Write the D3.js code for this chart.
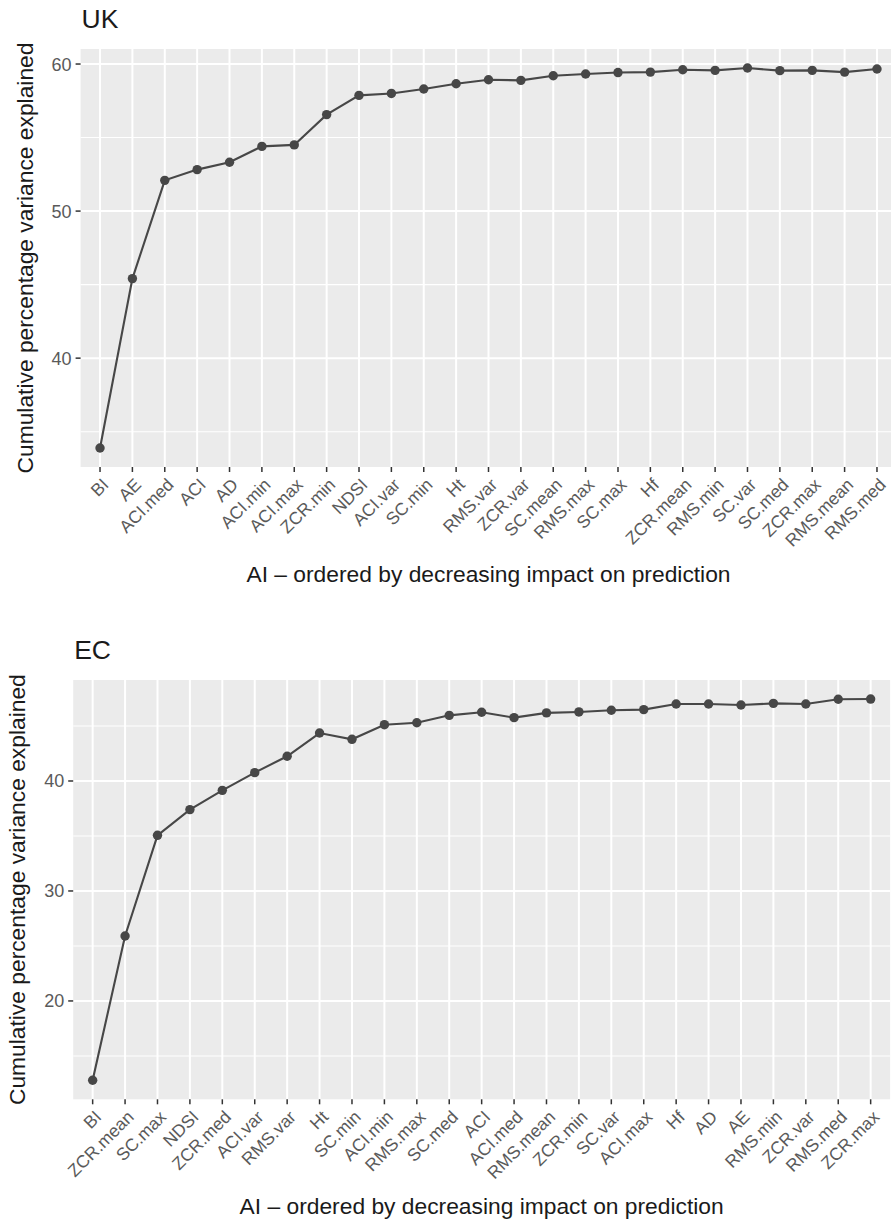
<!DOCTYPE html>
<html>
<head>
<meta charset="utf-8">
<script src="https://cdn.jsdelivr.net/npm/d3@7"></script>
<style>
  html, body { margin: 0; padding: 0; background: #fff; }
  svg { display: block; }
  text { font-family: "Liberation Sans", Arial, Helvetica, sans-serif; }
</style>
</head>
<body>
<svg id="chart" width="891" height="1220"></svg>
<script>
// ---- Data ----
const ukCategories = ["BI","AE","ACI.med","ACI","AD","ACI.min","ACI.max","ZCR.min","NDSI","ACI.var","SC.min","Ht","RMS.var","ZCR.var","SC.mean","RMS.max","SC.max","Hf","ZCR.mean","RMS.min","SC.var","SC.med","ZCR.max","RMS.mean","RMS.med"];
const ukValues = [33.89,45.41,52.09,52.82,53.32,54.40,54.50,56.56,57.87,58.00,58.30,58.66,58.93,58.89,59.20,59.32,59.42,59.45,59.61,59.57,59.73,59.55,59.57,59.45,59.66];
const ukYTicks = [40,50,60];
const ukYMinor = [35,45,55];

const ecCategories = ["BI","ZCR.mean","SC.max","NDSI","ZCR.med","ACI.var","RMS.var","Ht","SC.min","ACI.min","RMS.max","SC.med","ACI","ACI.med","RMS.mean","ZCR.min","SC.var","ACI.max","Hf","AD","AE","RMS.min","ZCR.var","RMS.med","ZCR.max"];
const ecValues = [12.79,25.91,35.06,37.40,39.15,40.76,42.25,44.36,43.79,45.12,45.30,45.97,46.25,45.76,46.19,46.28,46.43,46.49,47.00,47.00,46.91,47.06,47.00,47.43,47.45];
const ecYTicks = [20,30,40];
const ecYMinor = [15,25,35,45];

const xTitle = "AI \u2013 ordered by decreasing impact on prediction";
const yTitle = "Cumulative percentage variance explained";

// ---- Drawing ----
const svg = d3.select("#chart");

function panel(cfg) {
  const {title, cats, vals, ticks, minor, left, right, top, bottom} = cfg;
  const g = svg.append("g");
  const x = d3.scalePoint().domain(cats).range([left, right]).padding(0.6);
  const ext = d3.extent(vals);
  const pad = (ext[1] - ext[0]) * 0.05;
  const y = d3.scaleLinear().domain([ext[0] - pad, ext[1] + pad]).range([bottom, top]);

  // background
  g.append("rect").attr("x", left).attr("y", top)
    .attr("width", right - left).attr("height", bottom - top)
    .attr("fill", "#EBEBEB");

  // minor grid
  g.selectAll(".minor").data(minor).join("line")
    .attr("x1", left).attr("x2", right)
    .attr("y1", d => y(d)).attr("y2", d => y(d))
    .attr("stroke", "#fff").attr("stroke-width", 1.1);
  // major grid
  g.selectAll(".majorY").data(ticks).join("line")
    .attr("x1", left).attr("x2", right)
    .attr("y1", d => y(d)).attr("y2", d => y(d))
    .attr("stroke", "#fff").attr("stroke-width", 2);
  g.selectAll(".majorX").data(cats).join("line")
    .attr("x1", d => x(d)).attr("x2", d => x(d))
    .attr("y1", top).attr("y2", bottom)
    .attr("stroke", "#fff").attr("stroke-width", 2);

  // line + points
  const pts = cats.map((c, i) => [x(c), y(vals[i])]);
  g.append("path").attr("d", d3.line()(pts))
    .attr("fill", "none").attr("stroke", "#474747").attr("stroke-width", 2.1);
  g.selectAll(".pt").data(pts).join("circle")
    .attr("cx", d => d[0]).attr("cy", d => d[1]).attr("r", 4.7)
    .attr("fill", "#474747");

  // y axis ticks
  g.selectAll(".yt").data(ticks).join("line")
    .attr("x1", left - 5).attr("x2", left)
    .attr("y1", d => y(d)).attr("y2", d => y(d))
    .attr("stroke", "#333").attr("stroke-width", 1.5);
  g.selectAll(".yl").data(ticks).join("text")
    .attr("x", left - 9).attr("y", d => y(d)).attr("dy", "0.36em")
    .attr("text-anchor", "end").attr("font-size", 18).attr("fill", "#5a5a5a")
    .text(d => d);

  // x axis ticks
  g.selectAll(".xt").data(cats).join("line")
    .attr("x1", d => x(d)).attr("x2", d => x(d))
    .attr("y1", bottom).attr("y2", bottom + 5)
    .attr("stroke", "#333").attr("stroke-width", 1.5);
  g.selectAll(".xl").data(cats).join("text")
    .attr("transform", d => `translate(${x(d) + 1},${bottom + 10}) rotate(-45)`)
    .attr("dy", "0.71em")
    .attr("text-anchor", "end").attr("font-size", 17.5).attr("fill", "#5a5a5a")
    .text(d => d);

  // titles
  g.append("text").attr("x", (left + right) / 2).attr("y", bottom + 115)
    .attr("text-anchor", "middle").attr("font-size", 22.8).attr("fill", "#1a1a1a")
    .text(xTitle);
  g.append("text")
    .attr("transform", `translate(${left - 48},${(top + bottom) / 2}) rotate(-90)`)
    .attr("text-anchor", "middle").attr("font-size", 22.8).attr("fill", "#1a1a1a")
    .text(yTitle);
  g.append("text").attr("x", left + 1).attr("y", top - 21)
    .attr("font-size", 26.5).attr("fill", "#1a1a1a")
    .text(title);
}

panel({title: "UK", cats: ukCategories, vals: ukValues, ticks: ukYTicks, minor: ukYMinor,
       left: 80.6, right: 896.4, top: 49, bottom: 467});
panel({title: "EC", cats: ecCategories, vals: ecValues, ticks: ecYTicks, minor: ecYMinor,
       left: 73.2, right: 890.1, top: 680, bottom: 1099.3});
</script>
</body>
</html>
